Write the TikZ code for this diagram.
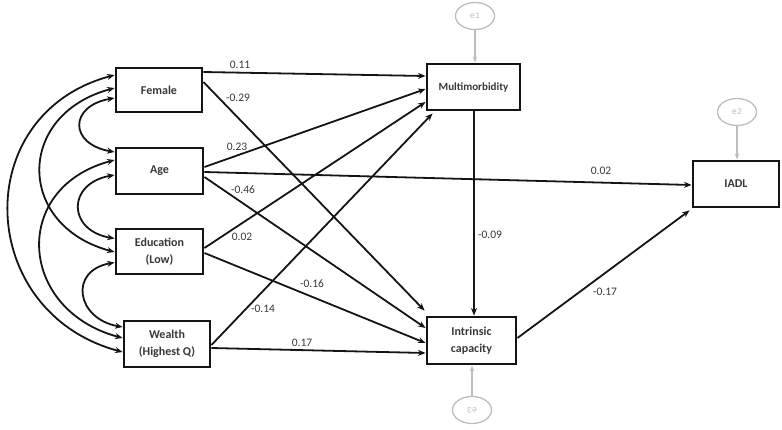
\documentclass[tikz,border=0pt]{standalone}
\usepackage{fontspec}
\setmainfont{Carlito}
\setmonofont{Liberation Mono}
\usetikzlibrary{arrows.meta,positioning,calc,shapes.geometric}
\definecolor{SemInk}{gray}{0.08}
\definecolor{SemText}{gray}{0.22}
\definecolor{SemGray}{gray}{0.74}

\begin{document}
\begin{tikzpicture}[x=1pt,y=-1pt,>={Stealth[length=7.5pt,width=6pt]},
  font=\fontsize{11.5}{13}\selectfont,
  var/.style={draw=SemInk,line width=2.9pt,align=center,text=SemText,
    font=\fontsize{12}{17}\selectfont\bfseries},
  errterm/.style={ellipse,draw=SemGray,line width=1.3pt,minimum width=39pt,
    minimum height=27pt,inner sep=0pt,text=SemGray,font=\ttfamily\fontsize{8.5}{9}\selectfont},
  errpath/.style={-{Stealth[length=6pt,width=4.5pt]},draw=SemGray,line width=1.6pt},
  pathto/.style={->,draw=SemInk,line width=1.8pt},
  covar/.style={<->,draw=SemInk,line width=1.8pt},
  coef/.style={text=SemText,inner sep=1pt}]
  \useasboundingbox (0,0) rectangle (782,429);

  \node[var,minimum width=86pt,minimum height=44pt] (fem) at (159,90) {Female};
  \node[var,minimum width=87pt,minimum height=46pt] (age) at (159.5,171) {Age};
  \node[var,minimum width=87pt,minimum height=45pt] (edu) at (159.5,251.5) {Education\\(Low)};
  \node[var,minimum width=86pt,minimum height=46pt] (wea) at (167,344) {Wealth\\(Highest Q)};
  \node[var,minimum width=93pt,minimum height=46pt,font=\fontsize{11}{13}\selectfont\bfseries] (mm) at (473.5,87) {Multimorbidity};
  \node[var,minimum width=89pt,minimum height=47pt] (ic) at (471.5,340.5) {Intrinsic\\capacity};
  \node[var,minimum width=86pt,minimum height=46pt] (iadl) at (736,184) {IADL};

  \node[errterm] (e1) at (475,16) {e1};
  \node[errterm] (e2) at (737,112) {e2};
  \node[errterm,rotate=180] (e3) at (472,410) {e3};
  \draw[errpath] (e1) -- (e1 |- mm.north);
  \draw[errpath] (e2) -- (e2 |- iadl.north);
  \draw[errpath] (e3) -- (e3 |- ic.south);

  \draw[pathto] ([yshift=18pt]fem.east) -- ([yshift=11pt]mm.west);
  \draw[pathto] ([yshift=8pt]fem.east) -- ([shift={(-1pt,5pt)}]ic.north west);
  \draw[pathto] ([yshift=4pt]age.east) -- ([yshift=-2pt]mm.west);
  \draw[pathto] ([yshift=-1pt]age.east) -- ([yshift=-1pt]iadl.west);
  \draw[pathto] ([yshift=-6pt]age.east) -- ([yshift=12.5pt]ic.west);
  \draw[pathto] ([yshift=3.5pt]edu.east) -- ([yshift=-15pt]mm.west);
  \draw[pathto] ([yshift=-1.5pt]edu.east) -- ([yshift=-2.5pt]ic.west);
  \draw[pathto] ([yshift=-1pt]wea.east) -- ([shift={(7pt,-2pt)}]mm.south west);
  \draw[pathto] ([yshift=-4pt]wea.east) -- ([yshift=-12.5pt]ic.west);
  \draw[pathto] (mm.south -| 474,0) -- (ic.north -| 474,0);
  \draw[pathto] ([yshift=2.5pt]ic.east) -- ([shift={(-2pt,-2pt)}]iadl.south west);

  \node[coef] (b1) at (240,65) {0.11};
  \node[coef] (b2) at (238,98) {-0.29};
  \node[coef] (b3) at (237,147) {0.23};
  \node[coef] (b4) at (243,190) {-0.46};
  \node[coef] (b5) at (242,237) {0.02};
  \node[coef] (b6) at (312,284) {-0.16};
  \node[coef] (b7) at (263,309) {-0.14};
  \node[coef] (b8) at (302,343) {0.17};
  \node[coef] (b9) at (490,235) {-0.09};
  \node[coef] (b10) at (601,171) {0.02};
  \node[coef] (b11) at (605,292) {-0.17};

  \draw[covar] ([yshift=-8pt]fem.west) to[out=190,in=170,looseness=2.2] ([yshift=19pt]age.west);
  \draw[covar] ([yshift=-4pt]age.west) to[out=190,in=170,looseness=1.95] ([yshift=13pt]edu.west);
  \draw[covar] ([yshift=-11pt]edu.west) to[out=190,in=170,looseness=1.85] ([yshift=17pt]wea.west);
  \draw[covar] ([yshift=2pt]fem.west) to[out=195,in=165,looseness=1.6] ([yshift=-0.5pt]edu.west);
  \draw[covar] ([yshift=11pt]age.west) to[out=195,in=165,looseness=1.55] ([yshift=6pt]wea.west);
  \draw[covar] ([yshift=15pt]fem.west) to[out=195,in=165,looseness=1.4] ([yshift=-8pt]wea.west);
\end{tikzpicture}
\end{document}
